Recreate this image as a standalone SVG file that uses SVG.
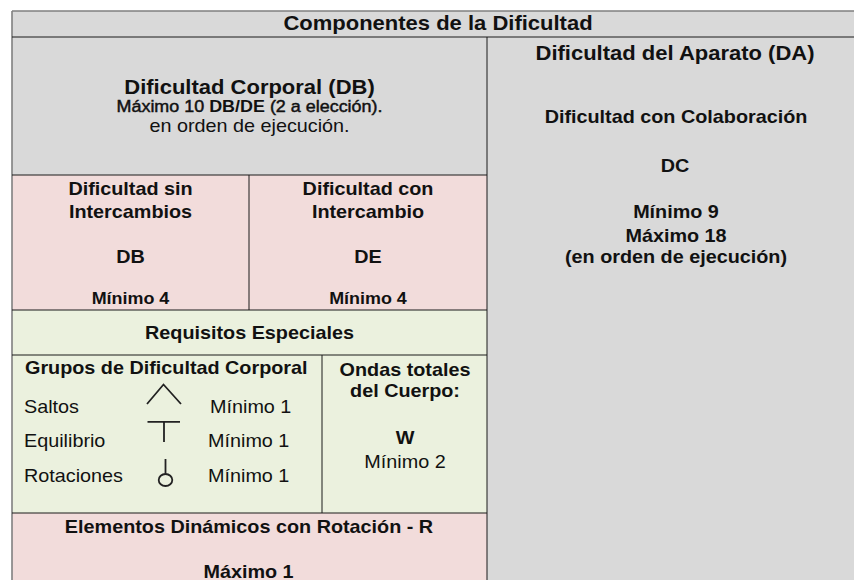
<svg xmlns="http://www.w3.org/2000/svg" width="854" height="580" viewBox="0 0 854 580">
<style>
text{font-family:"Liberation Sans",Arial,sans-serif;fill:#111;}
.b{font-weight:bold;}
.c{text-anchor:middle;}
.s16{font-size:16.3px;}
.s18{font-size:18px;}
.s20{font-size:20px;}
.semi{stroke:#111;stroke-width:0.45px;}
.gray{fill:#d9d9d9;}
.pink{fill:#f2dcdb;}
.green{fill:#ebf1de;}
.ln{stroke:#1a1a1a;stroke-width:1;fill:none;}
.sym{stroke:#222;stroke-width:1.8;fill:none;}
</style>
<rect x="0" y="0" width="854" height="580" fill="#fff"/>
<g id="header">
<rect class="gray" x="12" y="11" width="842" height="26"/>
<text class="b c s20" transform="translate(438 30) scale(1.1 1)">Componentes de la Dificultad</text>
</g>
<g id="db-main">
<rect class="gray" x="12" y="37" width="475" height="138"/>
<text class="b c s20" transform="translate(249.5 94) scale(1.1 1)">Dificultad Corporal (DB)</text>
<text class="c s16" transform="translate(249.5 112) scale(1.1 1)"><tspan class="semi">Máximo 10 </tspan><tspan class="b">DB/DE</tspan><tspan class="semi"> (2 a elección).</tspan></text>
<text class="c s18" transform="translate(249.5 132) scale(1.1 1)">en orden de ejecución.</text>
</g>
<g id="db-sin">
<rect class="pink" x="12" y="175" width="237" height="135"/>
<text class="b c s18" transform="translate(130.5 195) scale(1.1 1)">Dificultad sin</text>
<text class="b c s18" transform="translate(130.5 218) scale(1.1 1)">Intercambios</text>
<text class="b c s18" transform="translate(130.5 263) scale(1.1 1)">DB</text>
<text class="b c s16" transform="translate(130.5 304) scale(1.1 1)">Mínimo 4</text>
</g>
<g id="de-con">
<rect class="pink" x="249" y="175" width="238" height="135"/>
<text class="b c s18" transform="translate(368 195) scale(1.1 1)">Dificultad con</text>
<text class="b c s18" transform="translate(368 218) scale(1.1 1)">Intercambio</text>
<text class="b c s18" transform="translate(368 263) scale(1.1 1)">DE</text>
<text class="b c s16" transform="translate(368 304) scale(1.1 1)">Mínimo 4</text>
</g>
<g id="requisitos">
<rect class="green" x="12" y="310" width="475" height="45"/>
<text class="b c s18" transform="translate(249.5 339) scale(1.1 1)">Requisitos Especiales</text>
</g>
<g id="grupos">
<rect class="green" x="12" y="355" width="310" height="158"/>
<text class="b s18" transform="translate(25 373.5) scale(1.1 1)">Grupos de Dificultad Corporal</text>
<text class="s18" transform="translate(24 412.5) scale(1.1 1)">Saltos</text>
<text class="s18" transform="translate(24 446.5) scale(1.1 1)">Equilibrio</text>
<text class="s18" transform="translate(24 481.5) scale(1.1 1)">Rotaciones</text>
<text class="s18" transform="translate(210 412.5) scale(1.1 1)">Mínimo 1</text>
<text class="s18" transform="translate(208 446.5) scale(1.1 1)">Mínimo 1</text>
<text class="s18" transform="translate(208 481.5) scale(1.1 1)">Mínimo 1</text>
<polyline class="sym" points="147,404 163.5,384.5 181,404"/>
<path class="sym" d="M147.5 421.8H180M164 421.8V442"/>
<path class="sym" d="M165.5 459V473.5"/>
<ellipse class="sym" cx="165.5" cy="480" rx="6.8" ry="6"/>
</g>
<g id="ondas">
<rect class="green" x="322" y="355" width="165" height="158"/>
<text class="b c s18" transform="translate(405 375.5) scale(1.1 1)">Ondas totales</text>
<text class="b c s18" transform="translate(405 396.5) scale(1.1 1)">del Cuerpo:</text>
<text class="b c s18" transform="translate(405 444) scale(1.1 1)">W</text>
<text class="c s18" transform="translate(405 468) scale(1.1 1)">Mínimo 2</text>
</g>
<g id="rotacion">
<rect class="pink" x="12" y="513" width="475" height="67"/>
<text class="b c s18" transform="translate(249 533) scale(1.1 1)">Elementos Dinámicos con Rotación - R</text>
<text class="b c s18" transform="translate(248.5 577.5) scale(1.1 1)">Máximo 1</text>
</g>
<g id="da">
<rect class="gray" x="487" y="37" width="367" height="543"/>
<text class="b c s20" transform="translate(675 60) scale(1.1 1)">Dificultad del Aparato (DA)</text>
<text class="b c s18" transform="translate(676 123) scale(1.1 1)">Dificultad con Colaboración</text>
<text class="b c s18" transform="translate(675 171.5) scale(1.1 1)">DC</text>
<text class="b c s18" transform="translate(676 218) scale(1.1 1)">Mínimo 9</text>
<text class="b c s18" transform="translate(676 241.5) scale(1.1 1)">Máximo 18</text>
<text class="b c s18" transform="translate(676 263) scale(1.1 1)">(en orden de ejecución)</text>
</g>
<g id="connectors">
<path d="M12 11H854M12 11V580" stroke="#808080" stroke-width="1.6" fill="none"/>
<path class="ln" d="M12 37H854M487 37V580M12 175H487M249 175V310M12 310H487M12 355H487M322 355V513M12 513H487"/>
</g>
</svg>
